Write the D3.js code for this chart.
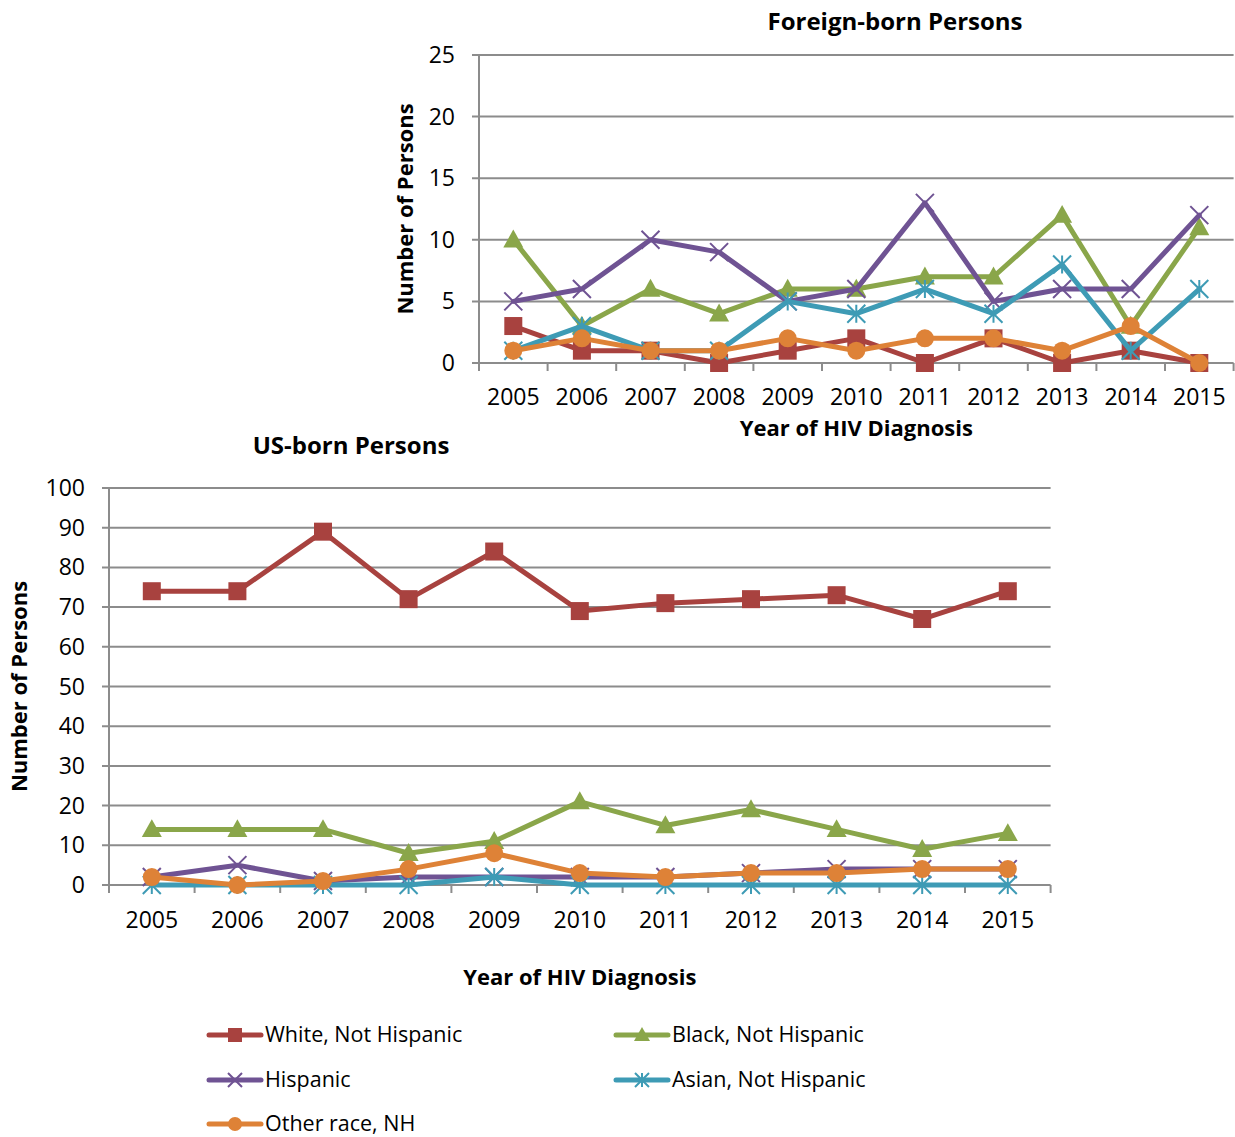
<!DOCTYPE html>
<html>
<head>
<meta charset="utf-8">
<script src="https://cdn.jsdelivr.net/npm/d3@7"></script>
<style>
  html, body { margin: 0; padding: 0; background: #fff; }
  svg { display: block; font-family: "Open Sans", "Noto Sans", sans-serif; }
</style>
</head>
<body>
<svg id="chart" width="1235" height="1137"></svg>
<script>
// Year of HIV diagnosis
const years = ["2005","2006","2007","2008","2009","2010","2011","2012","2013","2014","2015"];

// Foreign-born persons, by race/ethnicity
const fbWhite    = [3, 1, 1, 0, 1, 2, 0, 2, 0, 1, 0];
const fbBlack    = [10, 3, 6, 4, 6, 6, 7, 7, 12, 3, 11];
const fbHispanic = [5, 6, 10, 9, 5, 6, 13, 5, 6, 6, 12];
const fbAsian    = [1, 3, 1, 1, 5, 4, 6, 4, 8, 1, 6];
const fbOther    = [1, 2, 1, 1, 2, 1, 2, 2, 1, 3, 0];

// US-born persons, by race/ethnicity
const usWhite    = [74, 74, 89, 72, 84, 69, 71, 72, 73, 67, 74];
const usBlack    = [14, 14, 14, 8, 11, 21, 15, 19, 14, 9, 13];
const usHispanic = [2, 5, 1, 2, 2, 2, 2, 3, 4, 4, 4];
const usAsian    = [0, 0, 0, 0, 2, 0, 0, 0, 0, 0, 0];
const usOther    = [2, 0, 1, 4, 8, 3, 2, 3, 3, 4, 4];

const seriesNames = ["White, Not Hispanic", "Black, Not Hispanic", "Hispanic", "Asian, Not Hispanic", "Other race, NH"];
const fbTicks = [0, 5, 10, 15, 20, 25];
const usTicks = [0, 10, 20, 30, 40, 50, 60, 70, 80, 90, 100];

const styles = [
  { color: "#A8423F", marker: "square" },
  { color: "#8AA64A", marker: "triangle" },
  { color: "#6F5393", marker: "x" },
  { color: "#3E9BB5", marker: "star" },
  { color: "#DE8237", marker: "circle" }
];
const gridColor = "#8C8C8C";

const svg = d3.select("#chart");

function drawMarker(g, type, color, s) {
  // s = nominal marker size in px
  if (type === "square") {
    g.append("rect").attr("x", -s / 2).attr("y", -s / 2).attr("width", s).attr("height", s)
      .attr("fill", color);
  } else if (type === "circle") {
    g.append("circle").attr("r", s / 2).attr("fill", color);
  } else if (type === "triangle") {
    const h = s * 0.95;
    g.append("path").attr("d", `M0,${-h * 0.6}L${s / 2 + 1},${h * 0.45}L${-s / 2 - 1},${h * 0.45}Z`)
      .attr("fill", color);
  } else if (type === "x") {
    const r = s / 2;
    g.append("path").attr("d", `M${-r},${-r}L${r},${r}M${-r},${r}L${r},${-r}`)
      .attr("stroke", color).attr("stroke-width", 2).attr("fill", "none");
  } else if (type === "star") {
    const r = s / 2;
    g.append("path").attr("d", `M${-r},${-r}L${r},${r}M${-r},${r}L${r},${-r}M0,${-r}L0,${r}`)
      .attr("stroke", color).attr("stroke-width", 2).attr("fill", "none");
  }
}

function panel(opts) {
  const { left, right, top, bottom, max, ticks, series, title, titleX, titleY,
          yTitleX, xTitleY, tickLabelY, markerSize } = opts;
  const x = d3.scaleBand().domain(years).range([left, right]).paddingInner(0).paddingOuter(0);
  const y = d3.scaleLinear().domain([0, max]).range([bottom, top]);
  const g = svg.append("g");

  // horizontal gridlines
  g.append("g").selectAll("line").data(ticks).join("line")
    .attr("x1", left - 7).attr("x2", right)
    .attr("y1", d => y(d)).attr("y2", d => y(d))
    .attr("stroke", gridColor).attr("stroke-width", 2);

  // value axis line
  g.append("line").attr("x1", left).attr("x2", left).attr("y1", top).attr("y2", bottom)
    .attr("stroke", gridColor).attr("stroke-width", 2);

  // category axis tick marks at band edges
  const edges = years.map(d => x(d)).concat([right]);
  g.append("g").selectAll("line").data(edges).join("line")
    .attr("x1", d => d).attr("x2", d => d).attr("y1", bottom).attr("y2", bottom + 8)
    .attr("stroke", gridColor).attr("stroke-width", 2);

  // y tick labels
  g.append("g").selectAll("text").data(ticks).join("text")
    .attr("x", left - 24).attr("y", d => y(d)).attr("dy", "0.35em")
    .attr("text-anchor", "end").attr("font-size", 23).attr("fill", "#000")
    .text(d => d);

  // x tick labels
  g.append("g").selectAll("text").data(years).join("text")
    .attr("x", d => x(d) + x.bandwidth() / 2).attr("y", tickLabelY)
    .attr("text-anchor", "middle").attr("font-size", 23).attr("fill", "#000")
    .text(d => d);

  // series lines and markers
  const line = d3.line().x((d, i) => x(years[i]) + x.bandwidth() / 2).y(d => y(d));
  series.forEach((vals, k) => {
    const st = styles[k];
    g.append("path").datum(vals).attr("d", line)
      .attr("fill", "none").attr("stroke", st.color).attr("stroke-width", 5)
      .attr("stroke-linejoin", "round").attr("stroke-linecap", "round");
    vals.forEach((v, i) => {
      const m = g.append("g").attr("transform", `translate(${x(years[i]) + x.bandwidth() / 2},${y(v)})`);
      drawMarker(m, st.marker, st.color, markerSize);
    });
  });

  // titles
  g.append("text").attr("x", titleX).attr("y", titleY).attr("text-anchor", "middle")
    .attr("font-size", 24).attr("font-weight", "bold").attr("fill", "#000").text(title);
  g.append("text").attr("transform", `translate(${yTitleX},${(top + bottom) / 2}) rotate(-90)`)
    .attr("text-anchor", "middle").attr("font-size", 22).attr("font-weight", "bold")
    .attr("fill", "#000").text("Number of Persons");
  g.append("text").attr("x", (left + right) / 2).attr("y", xTitleY).attr("text-anchor", "middle")
    .attr("font-size", 22).attr("font-weight", "bold").attr("fill", "#000").text("Year of HIV Diagnosis");
}

panel({
  left: 479, right: 1233.6, top: 55, bottom: 363, max: 25, ticks: fbTicks,
  series: [fbWhite, fbBlack, fbHispanic, fbAsian, fbOther],
  title: "Foreign-born Persons", titleX: 895, titleY: 30,
  yTitleX: 413, xTitleY: 436, tickLabelY: 405, markerSize: 18
});

panel({
  left: 109, right: 1050.6, top: 488, bottom: 885, max: 100, ticks: usTicks,
  series: [usWhite, usBlack, usHispanic, usAsian, usOther],
  title: "US-born Persons", titleX: 351, titleY: 454,
  yTitleX: 27, xTitleY: 985, tickLabelY: 928, markerSize: 18
});

// legend
const legendPos = [
  { x: 207, y: 1035 }, { x: 614, y: 1035 },
  { x: 207, y: 1080 }, { x: 614, y: 1080 },
  { x: 207, y: 1124 }
];
const lg = svg.append("g");
seriesNames.forEach((name, k) => {
  const p = legendPos[k], st = styles[k];
  const item = lg.append("g").attr("transform", `translate(${p.x},${p.y})`);
  item.append("line").attr("x1", 2).attr("x2", 54).attr("y1", 0).attr("y2", 0)
    .attr("stroke", st.color).attr("stroke-width", 5).attr("stroke-linecap", "round");
  const m = item.append("g").attr("transform", "translate(28,0)");
  drawMarker(m, st.marker, st.color, 14);
  item.append("text").attr("x", 58).attr("y", 0).attr("dy", "0.33em")
    .attr("font-size", 21.5).attr("fill", "#000").text(name);
});
</script>
</body>
</html>
